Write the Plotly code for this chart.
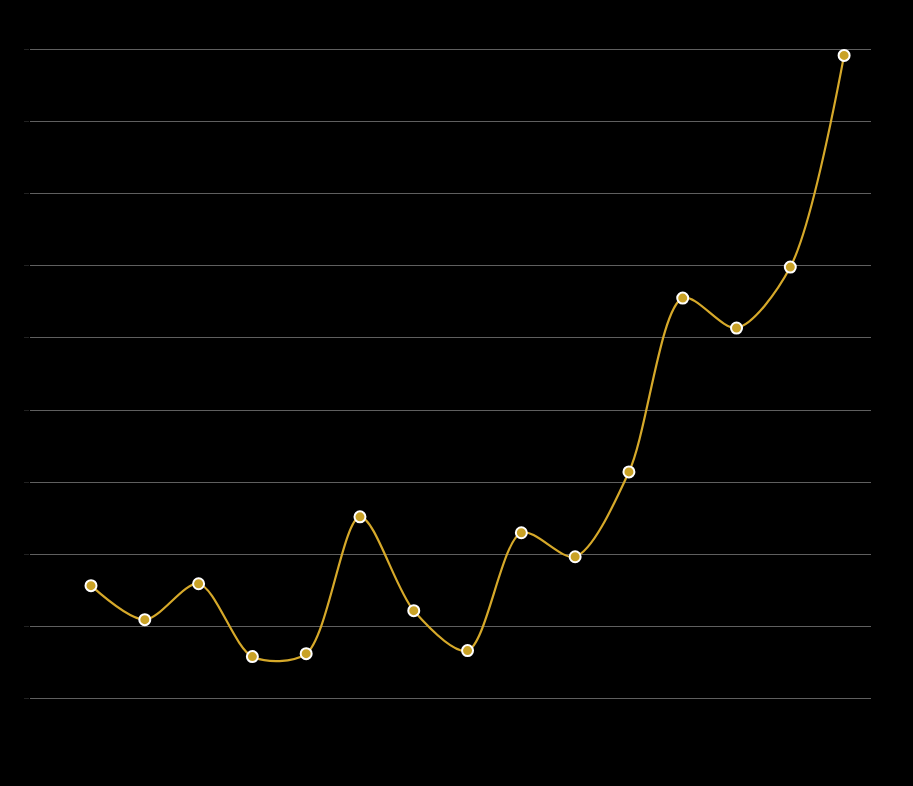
import plotly.graph_objects as go

categories = list(range(1, 16))
values = [15.65, 10.94, 15.92, 5.82, 6.23, 25.2, 12.19, 6.65, 22.99, 19.66, 31.43, 55.52, 51.37, 59.82, 89.17]
y_ticks = [0, 10, 20, 30, 40, 50, 60, 70, 80, 90]

fig = go.Figure()
fig.add_trace(go.Scatter(
    x=categories, y=values, mode="lines+markers",
    line=dict(shape="spline", color="#d6a92a", width=2.2, smoothing=0.85),
    marker=dict(size=11, color="#c9a227", line=dict(color="#ffffff", width=2)),
    showlegend=False, hoverinfo="x+y",
))

fig.update_layout(
    width=913, height=786,
    paper_bgcolor="#000000", plot_bgcolor="#000000",
    margin=dict(l=30, r=42, t=35, b=73, autoexpand=False),
    font=dict(family="Roboto", color="#000000", size=12),
)
fig.update_xaxes(
    range=[categories[0] - 1.134, categories[-1] + 0.5],
    showgrid=False, zeroline=False, showline=False, automargin=False,
    tickvals=categories, tickfont=dict(color="#000000"),
)
fig.update_yaxes(
    range=[-2, 92], tickvals=y_ticks, automargin=False,
    showgrid=True, gridcolor="#5f5f5f", gridwidth=1,
    zeroline=False, showline=False,
    ticks="outside", ticklen=5, tickcolor="#222222",
    tickfont=dict(color="#000000"),
)

fig.write_html(
    "out.html",
    config={"displayModeBar": False},
    post_script="document.body.style.margin='0';document.body.style.background='#000';",
)
